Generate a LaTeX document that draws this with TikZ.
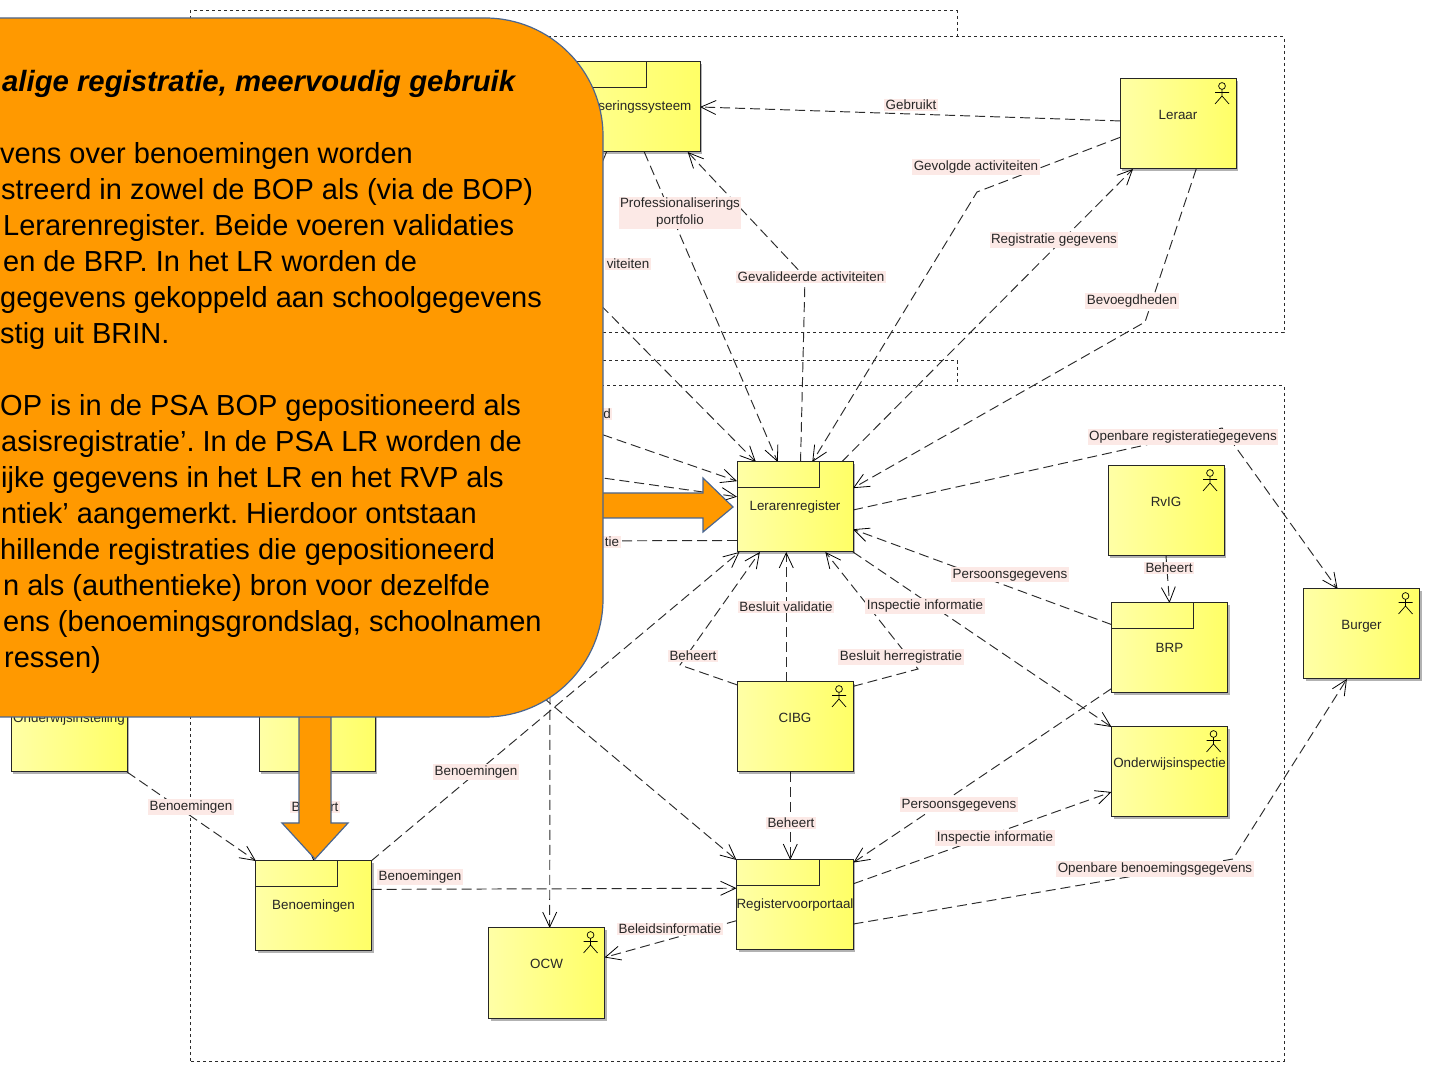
\documentclass[tikz,border=0pt]{standalone}
\usepackage{fontspec}
\setmainfont{Liberation Sans}
\usetikzlibrary{arrows.meta}
\usetikzlibrary{positioning}
\usetikzlibrary{backgrounds}
\usetikzlibrary{calc}
\usetikzlibrary{shadows}
\definecolor{boxlight}{HTML}{FFFFA6}
\definecolor{boxdark}{HTML}{FFFF66}
\definecolor{lblpink}{HTML}{FCE9E6}
\definecolor{callout}{HTML}{FF9900}
\definecolor{calloutline}{HTML}{4A6690}
\definecolor{inkgray}{HTML}{2B2B2B}
\tikzset{
    actorfig/.pic = {
        \draw[line width=0.7pt] (0,6) circle (3.4pt);
        \draw[line width=0.7pt] (0,2.6) -- (0,-4) (-7,-0.5) -- (7,-0.5) (-7,-12) -- (0,-4) -- (7,-12);
    },
    boxnode/.style = {shape=rectangle, draw=black!85, line width=1pt, outer sep=0pt,
        minimum width=116pt, minimum height=90pt, inner sep=0pt,
        left color=boxlight, right color=boxdark,
        font=\fontsize{13.4}{15}\selectfont, text=black!85,
        drop shadow={shadow xshift=2pt, shadow yshift=-2.5pt, fill=black, opacity=0.3}},
    actorbox/.style = {boxnode, text height=9pt, text depth=18pt},
    lbl/.style = {shape=rectangle, fill=lblpink, inner xsep=1.5pt, inner ysep=1.5pt, align=center,
        font=\fontsize{13.4}{17}\selectfont, text=black!85},
    conn/.style = {draw=inkgray, line width=0.95pt, dash pattern=on 10pt off 5pt,
        -{Straight Barb[length=15pt,width=14pt,line width=0.8pt,black]}},
    plainconn/.style = {draw=inkgray, line width=0.95pt, dash pattern=on 10pt off 5pt},
    frameline/.style = {draw=inkgray, line width=1pt, dash pattern=on 3pt off 3pt},
    blockarrow/.style = {fill=callout, draw=calloutline, line width=1.2pt, line join=miter}
}
\begin{document}
\begin{tikzpicture}[x=1pt, y=1pt]
    \useasboundingbox (0,0) rectangle (1431,1073);

    \node[boxnode] (q_leraren) at (795,566) {Lerarenregister};
    \node[actorbox, below = 130pt of q_leraren] (q_cibg) {CIBG};
    \node[boxnode, below = 88pt of q_cibg] (q_portaal) {Registervoorportaal};
    \node[actorbox, right = 255pt of q_leraren, yshift=-4pt] (q_rvig) {RvIG};
    \node[boxnode, below = 47pt of q_rvig, xshift=3.5pt] (q_brp) {BRP};
    \node[actorbox, below = 34pt of q_brp] (q_inspectie) {Onderwijsinspectie};
    \node[actorbox, right = 76pt of q_brp, yshift=14pt] (q_burger) {Burger};
    \node[actorbox, above = 297pt of q_rvig, xshift=12pt] (q_leraar) {Leraar};
    \node[boxnode, minimum width=187pt, left = 420pt of q_leraar, yshift=17pt] (q_profsys) {Professionaliseringssysteem};
    \node[boxnode, left = 365pt of q_portaal, yshift=-1pt] (q_benoem) {Benoemingen};
    \node[actorbox, right = 117pt of q_benoem, yshift=-67pt] (q_ocw) {OCW};
    \node[boxnode, above = 89pt of q_benoem, xshift=3.5pt] (q_bestuur) {};
    \node[actorbox, left = 132pt of q_bestuur] (q_instelling) {Onderwijsinstelling};

    % tabs and actors
    \foreach \n/\t in {q_leraren/34, q_portaal/34, q_brp/34, q_benoem/34, q_profsys/54}
        \draw[line width=1pt, draw=black!85] ($(\n.north west)+(0,-26)$) -| ($(\n.north east)+(-\t,0)$);
    \foreach \n in {q_leraar, q_cibg, q_rvig, q_inspectie, q_burger, q_ocw}
        \pic at ($(\n.north east)+(-14,-13)$) {actorfig};

    \node[lbl] (l_gebruikt) at (911,968) {Gebruikt};
    \node[lbl] (l_gevolgd) at (976,906) {Gevolgde activiteiten};
    \node[lbl] (l_portfolio) at (680,860) {Professionaliserings\\portfolio};
    \node[lbl] (l_activ) at (628,809) {viteiten};
    \node[lbl] (l_gevalid) at (811,796) {Gevalideerde activiteiten};
    \node[lbl] (l_registr) at (1054,833) {Registratie gegevens};
    \node[lbl] (l_bevoegd) at (1132,772) {Bevoegdheden};
    \node[lbl] (l_d) at (607,659) {d};
    \node[lbl] (l_tie) at (612,531) {tie};
    \node[lbl] (l_openreg) at (1183,636) {Openbare registeratiegegevens};
    \node[lbl] (l_persoon) at (1010,498) {Persoonsgegevens};
    \node[lbl] (l_rvig) at (1169,505) {Beheert};
    \node[lbl] (l_valid) at (786,466) {Besluit validatie};
    \node[lbl] (l_insp) at (925,467) {Inspectie informatie};
    \node[lbl] (l_beheer) at (693,417) {Beheert};
    \node[lbl] (l_herreg) at (901,416) {Besluit herregistratie};
    \node[lbl] (l_instel) at (191,266) {Benoemingen};
    \node[lbl] (l_bestuur) at (315,266) {Beheert};
    \node[lbl] (l_ben) at (476,301) {Benoemingen};
    \node[lbl] (l_benportaal) at (420,196) {Benoemingen};
    \node[lbl] (l_cibg) at (791,250) {Beheert};
    \node[lbl] (l_persport) at (959,268) {Persoonsgegevens};
    \node[lbl] (l_inspport) at (995,235) {Inspectie informatie};
    \node[lbl] (l_openben) at (1155,204) {Openbare benoemingsgegevens};
    \node[lbl] (l_beleid) at (670,144) {Beleidsinformatie};

    \coordinate (b_gevolgd) at (977,881);
    \coordinate (b_gevalid) at (805,796);
    \coordinate (b_activ) at (560,809);
    \coordinate (b_bevoegd) at (1145,751);
    \coordinate (b_openreg) at (1222,645);
    \coordinate (b_herreg) at (918,404);
    \coordinate (b_beheer) at (680,408);
    \coordinate (b_openben) at (1233,214);
    \coordinate (c_ocw) at (550,393);
    \coordinate (c_portaal) at (520,395);
    \coordinate (c_d) at (560,653);
    \coordinate (c_links) at (560,601);
    \coordinate (c_tie) at (560,532);

    \begin{scope}[on background layer]
        \draw[frameline] (190,1036) -- (190,1062) -- (957,1062) -- (957,1036) (190,740) rectangle (1284,1036);
        \draw[frameline] (190,687) -- (190,712) -- (957,712) -- (957,687) (190,12) rectangle (1284,687);

        \path[conn]
        (q_leraar.177)     edge (q_profsys.east)
        (q_profsys.-50.2)  edge (q_leraren.111.8)
        (q_leraren.44.4)   edge (q_leraar.225)
        (q_brp.158.4)      edge (q_leraren.-21.6)
        (q_rvig.south)     edge (q_brp.north)
        (q_leraren.south east) edge (q_inspectie.north west)
        (q_cibg.101.3)     edge (q_leraren.-101.3)
        (q_benoem.38.4)    edge (q_leraren.-141.2)
        (c_ocw)            edge (q_ocw.86.2)
        (c_portaal)        edge (q_portaal.north west)
        (c_d)              edge (q_leraren.156.7)
        (c_links)          edge (q_leraren.170.2)
        (q_instelling.south east) edge (q_benoem.142.3)
        (q_benoem.16.3)    edge (q_portaal.164.6)
        (q_portaal.195.4)  edge (q_ocw.15.4)
        (q_cibg.-96.3)     edge (q_portaal.96.3)
        (q_brp.215.9)      edge (q_portaal.36.5)
        (q_portaal.20.8)   edge (q_inspectie.199.9)
        (q_bestuur.south)  edge (q_benoem.north);

        \draw[conn] (q_leraar.193.6) -- (b_gevolgd) -- (q_leraren.69.3);
        \draw[conn] (q_leraren.83.7) -- (b_gevalid) -- (q_profsys.-29.2);
        \draw[conn] (q_profsys.south) -- (b_activ) -- (q_leraren.131.6);
        \draw[conn] (q_leraar.-68.2) -- (b_bevoegd) -- (q_leraren.18.1);
        \draw[conn] (q_leraren.-3.9) -- (b_openreg) -- (q_burger.118.1);
        \draw[conn] (q_cibg.35.3) -- (b_herreg) -- (q_leraren.-56.3);
        \draw[conn] (q_cibg.144.1) -- (b_beheer) -- (q_leraren.-128.7);
        \draw[conn] (q_portaal.-18.1) -- (b_openben) -- (q_burger.-108.4);
        \draw[plainconn] (q_leraren.210.4) -- (c_tie);
    \end{scope}

    % block arrows and the callout go over the diagram
    \draw[blockarrow] (590,580) -- (703,580) -- (703,595) -- (733,566) -- (703,541) -- (703,555) -- (590,555) -- cycle;
    \draw[blockarrow] (299,370) -- (299,250) -- (282,250) -- (315,214) -- (348,250) -- (331,250) -- (331,370) -- cycle;
    \draw[fill=callout, draw=calloutline, line width=1.2pt, rounded corners=118pt]
        (-4,1055) -- (603,1055) -- (603,356) -- (-4,356);

    \node[anchor=north west, inner sep=0pt, align=left, text=black, font=\frenchspacing\fontsize{29}{36}\selectfont] (t_callout) at (0,1003)
        {\hspace*{2pt}\textbf{\textit{\fontsize{29.3}{36}\selectfont alige registratie, meervoudig gebruik}}\\[36pt]
        vens over benoemingen worden\\
        \hspace*{1pt}streerd in zowel de BOP als (via de BOP)\\
        \hspace*{3pt}Lerarenregister. Beide voeren validaties\\
        \hspace*{3pt}en de BRP. In het LR worden de\\
        gegevens gekoppeld aan schoolgegevens\\
        stig uit BRIN.\\[36pt]
        OP is in de PSA BOP gepositioneerd als\\
        \hspace*{1pt}asisregistratie’. In de PSA LR worden de\\
        \hspace*{1pt}ijke gegevens in het LR en het RVP als\\
        \hspace*{1pt}ntiek’ aangemerkt. Hierdoor ontstaan\\
        hillende registraties die gepositioneerd\\
        \hspace*{3pt}n als (authentieke) bron voor dezelfde\\
        \hspace*{3pt}ens (benoemingsgrondslag, schoolnamen\\
        \hspace*{4pt}ressen)};
\end{tikzpicture}
\end{document}
